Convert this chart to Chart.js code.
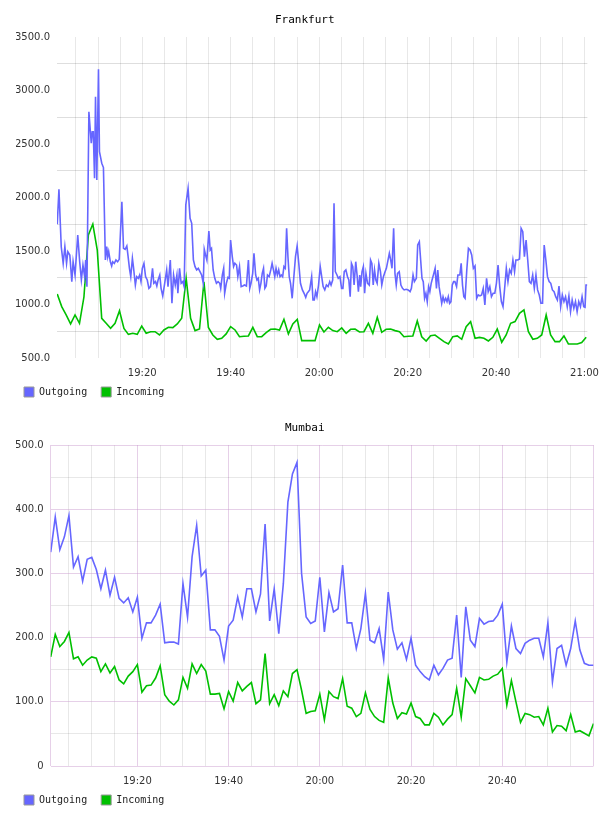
<!DOCTYPE html>
<html><head><meta charset="utf-8">
<script src="https://cdn.jsdelivr.net/npm/chart.js@4.4.1/dist/chart.umd.min.js"></script>
<style>html,body{margin:0;padding:0;background:#fff;}canvas{display:block;}</style>
</head><body>
<canvas id="fra" width="608" height="408"></canvas>
<canvas id="mum" width="608" height="408"></canvas>
<script>
// ---------- DATA (minutes after 19:00) ----------
const seriesNames = ['Outgoing', 'Incoming'];

const fraOutMinutes = [0.78,1.16,1.68,2.12,2.50,2.88,3.17,3.62,4.07,4.36,4.80,5.41,5.85,6.23,6.59,6.97,7.20,7.49,7.93,8.47,8.69,8.92,9.21,9.43,9.72,10.10,10.32,10.84,11.22,11.66,
11.96,12.19,12.41,12.78,13.08,13.30,13.68,14.05,14.42,14.79,15.39,15.76,16.13,16.51,16.80,17.10,17.40,17.77,18.00,18.44,18.74,19.11,19.41,19.71,20.01,20.38,20.75,21.13,21.50,21.87,22.32,22.61,22.99,23.29,23.58,23.96,24.25,24.63,25.07,25.52,25.82,26.34,26.71,27.08,27.46,27.83,28.05,28.43,28.80,29.17,29.47,29.84,30.36,
30.81,31.18,31.56,31.93,32.30,32.67,33.05,33.42,33.79,34.02,34.31,34.61,35.06,35.36,35.65,36.03,36.40,36.77,37.14,37.52,37.74,38.11,38.41,38.63,39.01,39.38,39.68,39.97,40.35,40.65,40.94,41.32,41.61,41.99,42.36,42.73,43.10,43.55,44.00,44.30,44.59,44.97,45.26,45.64,45.93,46.23,46.53,46.83,47.13,47.42,47.72,48.02,48.32,48.69,49.06,49.36,49.66,49.96,50.25,50.55,50.85,51.15,51.45,51.74,52.04,52.34,52.64,52.94,53.23,53.53,53.90,54.28,54.65,55.02,55.39,55.77,56.21,56.59,56.96,57.26,57.55,57.85,58.30,58.60,58.90,59.19,59.49,59.86,60.24,
60.90,61.27,61.64,62.02,62.39,62.69,63.06,63.36,63.65,64.03,64.32,64.70,65.07,65.37,65.67,66.04,66.41,66.71,67.01,67.30,67.60,67.90,68.27,68.57,68.87,69.17,69.39,69.69,69.99,70.28,70.58,70.95,71.33,71.62,71.92,72.22,72.52,72.82,73.11,73.49,73.86,74.16,74.53,74.90,75.20,75.50,75.87,76.17,76.47,76.84,77.14,77.43,77.73,78.11,78.48,78.85,79.22,79.67,80.12,80.56,80.86,81.23,81.53,81.98,82.28,82.65,82.95,83.25,83.54,83.84,84.14,84.44,84.74,85.03,85.33,85.63,85.93,86.22,86.52,86.82,87.12,87.42,87.71,88.01,88.31,88.61,88.91,89.20,89.50,89.80,90.10,90.40,90.69,91.07,91.37,
91.81,92.11,92.41,92.71,93.00,93.38,93.75,94.12,94.49,94.87,95.24,95.61,95.98,96.36,96.73,97.10,97.47,97.85,98.22,98.59,98.96,99.34,99.71,100.08,100.45,100.83,101.20,101.57,101.94,102.32,102.69,103.06,103.43,103.81,104.18,104.48,104.92,105.30,105.67,106.04,106.41,106.79,107.16,107.53,107.90,108.28,108.65,109.02,109.39,109.77,110.14,110.51,110.88,111.26,111.63,112.00,112.37,112.74,113.12,113.49,113.86,114.23,114.61,114.98,115.35,115.72,116.10,116.47,116.84,117.21,117.59,117.96,118.33,118.70,119.08,119.45,119.82,120.12,120.34,120.64];

const fraOutValues = [1750,2077,1540,1385,1540,1385,1493,1462,1213,1400,1276,1650,1400,1232,1369,1260,1416,1166,2802,2507,2615,2615,2180,2942,2164,3198,2428,2320,2280,1416,
1541,1447,1494,1400,1360,1400,1385,1416,1400,1422,1961,1525,1516,1547,1447,1338,1260,1432,1354,1182,1260,1245,1276,1214,1338,1385,1260,1229,1151,1167,1338,1198,1214,1173,1229,1276,1151,1080,1198,1323,1167,1416,1011,1276,1182,1276,1105,1338,1198,1214,1167,1930,2086,
1805,1759,1416,1354,1323,1338,1307,1276,1198,1516,1463,1416,1687,1509,1525,1323,1245,1198,1214,1198,1151,1276,1338,1105,1198,1254,1245,1603,1447,1354,1385,1369,1260,1354,1167,1173,1182,1173,1416,1151,1198,1291,1478,1276,1229,1245,1136,1198,1291,1338,1151,1173,1276,1260,1323,1385,1323,1260,1338,1276,1323,1260,1276,1260,1354,1338,1712,1447,1260,1198,1058,1260,1447,1547,1385,1198,1136,1105,1067,1105,1120,1136,1260,1042,1042,1120,1073,1182,1354,
1167,1136,1182,1167,1214,1182,1229,1946,1307,1276,1245,1260,1151,1151,1307,1323,1260,1229,1073,1385,1354,1182,1400,1276,1120,1276,1167,1307,1354,1105,1291,1198,1182,1416,1385,1182,1323,1229,1198,1385,1307,1182,1260,1307,1338,1400,1478,1416,1338,1712,1291,1182,1291,1307,1182,1151,1136,1142,1136,1120,1151,1276,1214,1245,1556,1587,1416,1245,1214,1058,1105,1027,1167,1120,1198,1245,1291,1338,1151,1323,1167,1089,1011,1073,1027,1058,1027,1073,1011,1027,1182,1214,1214,1167,1276,
1276,1385,1182,1073,1058,1323,1525,1509,1463,1338,1360,1058,1089,1080,1089,1151,996,1245,1120,1167,1073,1105,1105,1198,1369,1167,1027,980,1151,1338,1214,1323,1291,1416,1307,1416,1416,1425,1712,1681,1447,1603,1416,1214,1198,1276,1151,1276,1136,1089,1011,1011,1556,1416,1260,1214,1198,1136,1120,1073,1042,1173,980,1089,1027,1073,980,1080,933,1042,964,1027,933,1027,980,1073,980,974,1182,1182];

// Frankfurt incoming: one sample per interval starting at fraInStart
const fraInStart = 0.78;
const fraInStep = 1.005;
const fraInValues = [1098,980,902,818,902,824,1070,1650,1752,1509,871,824,777,824,942,777,721,731,721,799,
731,746,746,715,762,787,784,818,871,1245,871,756,771,1213,785,715,675,684,725,793,
762,699,703,706,787,699,699,737,768,771,762,861,725,818,861,662,662,662,662,808,
743,787,756,746,781,731,768,771,743,746,824,731,880,740,768,771,756,746,699,703,
706,846,699,659,709,715,684,653,631,699,706,675,793,840,684,693,684,659,693,771,
647,715,824,840,918,949,746,675,684,715,902,715,653,653,706,631,631,631,644,693];

// Mumbai: one sample per minute from 19:01 to 21:00
const mumStart = 1;
const mumStep = 1;
const mumOutValues = [333,388,337,357,390,310,326,288,322,325,306,276,305,266,294,261,254,262,240,263,
199,223,223,235,252,192,193,193,190,284,232,326,375,296,305,212,212,202,165,218,
227,263,232,276,276,240,268,377,226,276,206,284,411,455,473,300,232,222,226,294,
209,270,240,245,313,223,223,183,214,269,196,192,214,166,271,212,182,192,166,199,
157,147,139,134,157,142,152,165,168,235,138,248,196,186,230,221,225,226,235,252,
162,218,183,175,191,196,199,199,170,223,131,183,188,157,183,226,181,160,157,157];
const mumInValues = [170,205,186,194,208,167,170,157,165,170,168,147,159,145,155,134,128,140,147,158,
115,125,126,137,156,111,101,95,103,138,121,159,144,158,148,112,112,113,89,116,
101,130,117,124,130,97,103,175,97,111,94,117,108,144,150,118,82,85,86,112,
72,116,108,105,136,93,90,77,82,114,88,77,71,68,137,98,74,83,81,98,
77,74,64,64,82,76,64,73,80,121,76,136,125,114,138,134,135,140,143,152,
95,133,100,68,82,80,76,77,64,90,53,63,62,55,80,53,55,51,47,66];

const fraTimeLabels = ['19:20','19:40','20:00','20:20','20:40','21:00'];
const mumTimeLabels = ['19:20','19:40','20:00','20:20','20:40'];
const fraYLabels = [500,1000,1500,2000,2500,3000,3500];
const mumYLabels = [0,100,200,300,400,500];

// ---------- helpers ----------
const BLUE = '#6666ff', GREEN = '#00c000';
const toMin = s => { const [h,m] = s.split(':').map(Number); return (h-19)*60 + m; };
const fmt = t => { const h = 19 + Math.floor(t/60), m = Math.round(t - (h-19)*60); return h + ':' + String(m).padStart(2,'0'); };
const pairs = (ts, vs) => vs.map((v,i) => ({x: ts[i], y: v}));
const regular = (start, step, vs) => vs.map((v,i) => ({x: start + i*step, y: v}));

function buildChart(id, cfg) {
  const labelSet = new Set(cfg.timeLabels.map(toMin));
  return new Chart(document.getElementById(id), {
    type: 'line',
    data: { datasets: [
      { label: seriesNames[0], data: cfg.out, borderColor: BLUE, backgroundColor: BLUE },
      { label: seriesNames[1], data: cfg.inc, borderColor: GREEN, backgroundColor: GREEN }
    ]},
    options: {
      responsive: false, animation: false, devicePixelRatio: 1,
      elements: { point: { radius: 0 }, line: { borderWidth: 1.6, tension: 0, fill: false } },
      layout: { padding: { left: 16, right: 14.5, top: 0, bottom: 1 } },
      scales: {
        x: {
          type: 'linear', min: cfg.xmin, max: cfg.xmax,
          afterBuildTicks: s => { s.ticks = cfg.xTicks.map(v => ({value: v})); },
          afterFit: s => { s.height = 21; },
          ticks: { autoSkip: false, maxRotation: 0, minRotation: 0, padding: 9, color: '#333',
            font: { family: 'DejaVu Sans', size: 10 },
            callback: v => labelSet.has(v) ? fmt(v) : '' },
          grid: { drawTicks: false, lineWidth: 1, color: cfg.xGridColor },
          border: { display: false }
        },
        y: {
          type: 'linear', min: cfg.ymin, max: cfg.ymax,
          afterBuildTicks: s => { const t = []; for (let v = cfg.ymin; v <= cfg.ymax; v += cfg.ystep) t.push({value: v}); s.ticks = t; },
          afterFit: s => { s.width = cfg.yWidth; },
          ticks: { autoSkip: false, padding: 7, color: '#333', font: { family: 'DejaVu Sans', size: 10 },
            callback: v => cfg.yLabels.includes(v) ? (v === 0 ? '0' : v.toFixed(1)) : '' },
          grid: { drawTicks: false, lineWidth: 1, color: cfg.yGridColor },
          border: { display: false }
        }
      },
      plugins: {
        title: { display: true, text: cfg.title, color: '#000',
          font: { family: 'DejaVu Sans Mono', size: 11, weight: 'normal' }, padding: { top: 14, bottom: 9.8 } },
        legend: { position: 'bottom', align: 'start',
          labels: { boxWidth: 10, boxHeight: 10, padding: 8, color: '#222',
            font: { family: 'DejaVu Sans Mono', size: 10 },
            generateLabels: ch => ch.data.datasets.map((ds, i) => ({ text: ds.label + '\u00a0', fillStyle: ds.borderColor,
              strokeStyle: '#999', lineWidth: 1, hidden: false, datasetIndex: i, fontColor: '#222' })) } },
        tooltip: { enabled: false }
      }
    }
  });
}

const fraXTicks = []; for (let m = 5; m <= 120; m += 5) fraXTicks.push(m);
buildChart('fra', {
  title: 'Frankfurt',
  out: pairs(fraOutMinutes, fraOutValues),
  inc: regular(fraInStart, fraInStep, fraInValues),
  timeLabels: fraTimeLabels, xmin: 0.72, xmax: 120.65, xTicks: fraXTicks,
  xGridColor: 'rgba(0,0,0,0.09)',
  ymin: 500, ymax: 3500, ystep: 250, yLabels: fraYLabels, yWidth: 41,
  yGridColor: c => (c.tick && c.tick.value % 500 === 0) ? 'rgba(0,0,0,0)' : 'rgba(0,0,0,0.13)'
});

const mumXTicks = [1]; for (let m = 5; m <= 120; m += 5) mumXTicks.push(m);
const PINK = 'rgba(200,150,205,0.45)', GRAY = 'rgba(0,0,0,0.09)';
buildChart('mum', {
  title: 'Mumbai',
  out: regular(mumStart, mumStep, mumOutValues),
  inc: regular(mumStart, mumStep, mumInValues),
  timeLabels: mumTimeLabels, xmin: 1, xmax: 120, xTicks: mumXTicks,
  xGridColor: c => { const v = c.tick ? c.tick.value : 0; return (v === 1 || v % 20 === 0) ? PINK : GRAY; },
  ymin: 0, ymax: 500, ystep: 50, yLabels: mumYLabels, yWidth: 34.7,
  yGridColor: c => (c.tick && c.tick.value % 100 === 0) ? PINK : GRAY
});
</script>
</body></html>
